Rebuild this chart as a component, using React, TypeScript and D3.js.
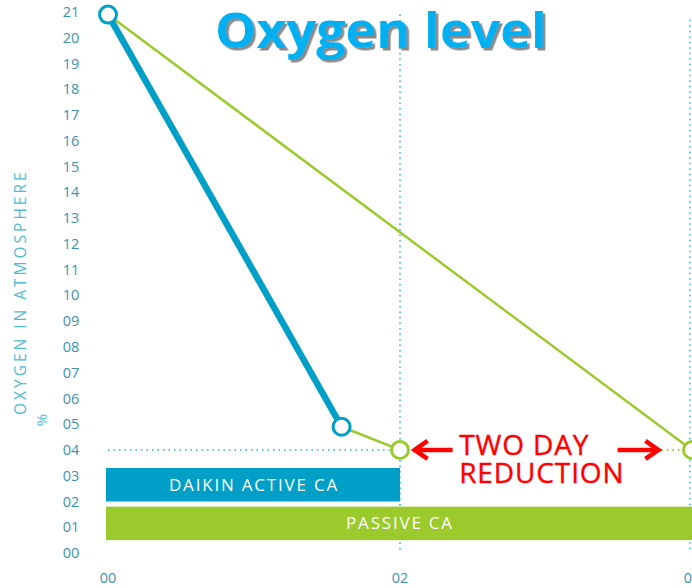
import React, { useEffect, useRef } from "react";
import * as d3 from "d3";

// data
const yTicks = d3.range(0, 22);
const xTicks = [0, 2, 4];
const activeDays = [0, 1.6];
const activeO2 = [20.9, 4.9];
const tailDays = [1.6, 2];
const tailO2 = [4.9, 4.0];
const passiveDays = [0, 4];
const passiveO2 = [20.9, 4.0];
const barNames = ["DAIKIN ACTIVE CA", "PASSIVE CA"];
const barStart = [0, 0];
const barEnd = [2, 4.1];
const barTop = [3.3, 1.8];
const barBottom = [2.0, 0.5];

const BLUE = "#009fc7";
const GREEN = "#9aca2b";
const DOT = "#5fc3d9";
const RED = "#ff0000";

const fmt = (v: number) => (v < 10 ? "0" + v : String(v));

export default function App() {
  const ref = useRef<SVGSVGElement>(null);

  useEffect(() => {
    const svg = d3.select(ref.current);
    svg.selectAll("*").remove();

    const x = d3.scaleLinear().domain([0, 4]).range([108, 692]);
    const y = d3.scaleLinear().domain([0, 21]).range([553, 12]);
    const font = "'Open Sans', sans-serif";

    // hard grey shadow for the title
    svg
      .append("defs")
      .append("filter")
      .attr("id", "shadow")
      .attr("x", "-5%")
      .attr("y", "-10%")
      .attr("width", "110%")
      .attr("height", "130%")
      .append("feDropShadow")
      .attr("dx", 2.5)
      .attr("dy", 2.5)
      .attr("stdDeviation", 0)
      .attr("flood-color", "#8a8a8a");

    // y tick labels
    svg
      .append("g")
      .selectAll("text")
      .data(yTicks)
      .join("text")
      .attr("x", 71)
      .attr("y", (d) => y(d))
      .attr("dy", "0.35em")
      .attr("text-anchor", "middle")
      .style("font-family", font)
      .style("font-size", "14.5px")
      .style("fill", "#3b93b3")
      .text((d) => fmt(d));

    // x tick labels
    svg
      .append("g")
      .selectAll("text")
      .data(xTicks)
      .join("text")
      .attr("x", (d) => x(d))
      .attr("y", 578)
      .attr("dy", "0.35em")
      .attr("text-anchor", "middle")
      .style("font-family", font)
      .style("font-size", "14.5px")
      .style("fill", "#3b93b3")
      .text((d) => fmt(d));

    // axis title, starts at the bottom
    svg
      .append("text")
      .attr("transform", "translate(26, 415) rotate(-90)")
      .attr("text-anchor", "start")
      .style("font-family", font)
      .style("font-size", "15.5px")
      .style("letter-spacing", "3px")
      .style("fill", "#4fbcd3")
      .text("OXYGEN IN ATMOSPHERE");
    svg
      .append("text")
      .attr("transform", "translate(47, 420) rotate(-90)")
      .attr("text-anchor", "middle")
      .style("font-family", font)
      .style("font-size", "15px")
      .style("fill", "#4fbcd3")
      .text("%");

    // dotted guides
    const dotted = (x1: number, y1: number, x2: number, y2: number, c: string) =>
      svg
        .append("line")
        .attr("x1", x(x1))
        .attr("y1", y(y1))
        .attr("x2", x(x2))
        .attr("y2", y(y2))
        .attr("stroke", c)
        .attr("stroke-width", 2)
        .attr("stroke-dasharray", "1.5 4");
    dotted(2, 20.9, 2, 0, DOT);
    dotted(3.985, 20.7, 3.985, 0, DOT);
    dotted(0, 4, 1.93, 4, DOT);
    dotted(3.79, 4, 3.95, 4, GREEN);

    // bars
    const colors = [BLUE, GREEN];
    barNames.forEach((name, i) => {
      svg
        .append("rect")
        .attr("x", x(barStart[i]) - 2)
        .attr("y", y(barTop[i]))
        .attr("width", x(barEnd[i]) - x(barStart[i]) + 2)
        .attr("height", y(barBottom[i]) - y(barTop[i]))
        .attr("fill", colors[i]);
      const cx = i === 0 ? (x(barStart[i]) + x(barEnd[i])) / 2 : x(2);
      svg
        .append("text")
        .attr("x", cx)
        .attr("y", (y(barTop[i]) + y(barBottom[i])) / 2)
        .attr("dy", "0.35em")
        .attr("text-anchor", "middle")
        .style("font-family", font)
        .style("font-size", "17px")
        .style("letter-spacing", "1.8px")
        .style("fill", "#fff")
        .text(name);
    });

    const line = d3
      .line<[number, number]>()
      .x((d) => x(d[0]))
      .y((d) => y(d[1]));

    const pts = (ds: number[], vs: number[]) => ds.map((d, i) => [d, vs[i]] as [number, number]);

    svg
      .append("path")
      .attr("d", line(pts(passiveDays, passiveO2)))
      .attr("fill", "none")
      .attr("stroke", GREEN)
      .attr("stroke-width", 2.5);
    svg
      .append("path")
      .attr("d", line(pts(tailDays, tailO2)))
      .attr("fill", "none")
      .attr("stroke", GREEN)
      .attr("stroke-width", 2.5);
    svg
      .append("path")
      .attr("d", line(pts(activeDays, activeO2)))
      .attr("fill", "none")
      .attr("stroke", BLUE)
      .attr("stroke-width", 6.5);

    // markers
    const markers: [number, number, string][] = [
      [activeDays[1], activeO2[1], BLUE],
      [tailDays[1], tailO2[1], GREEN],
      [passiveDays[1], passiveO2[1], GREEN],
      [activeDays[0], activeO2[0], BLUE],
    ];
    svg
      .append("g")
      .selectAll("circle")
      .data(markers)
      .join("circle")
      .attr("cx", (d) => x(d[0]))
      .attr("cy", (d) => y(d[1]))
      .attr("r", 8.5)
      .attr("fill", "#fff")
      .attr("stroke", (d) => d[2])
      .attr("stroke-width", 3);

    // two day reduction annotation
    const arrow = (from: number, to: number) => {
      const dir = Math.sign(to - from);
      const tip = x(to);
      const yy = y(4);
      svg
        .append("line")
        .attr("x1", x(from))
        .attr("y1", yy)
        .attr("x2", tip - dir * 2)
        .attr("y2", yy)
        .attr("stroke", RED)
        .attr("stroke-width", 4.5);
      svg
        .append("path")
        .attr("d", `M${tip - dir * 13},${yy - 9}L${tip},${yy}L${tip - dir * 13},${yy + 9}`)
        .attr("fill", "none")
        .attr("stroke", RED)
        .attr("stroke-width", 4.5)
        .attr("stroke-linejoin", "miter");
    };
    arrow(2.36, 2.1);
    arrow(3.49, 3.77);

    const ann = svg
      .append("text")
      .attr("text-anchor", "start")
      .style("font-family", font)
      .style("font-size", "28px")
      .style("letter-spacing", "0.9px")
      .style("fill", RED)
      .style("stroke", RED)
      .style("stroke-width", 0.4);
    ann.append("tspan").attr("x", x(2.405)).attr("y", 455).text("TWO DAY");
    ann.append("tspan").attr("x", x(2.405)).attr("y", 483).text("REDUCTION");

    // title
    svg
      .append("text")
      .attr("x", 381)
      .attr("y", 48)
      .attr("text-anchor", "middle")
      .attr("textLength", 332)
      .attr("lengthAdjust", "spacingAndGlyphs")
      .attr("filter", "url(#shadow)")
      .style("font-family", font)
      .style("font-weight", 700)
      .style("font-size", "48px")
      .style("fill", "#00b0f0")
      .text("Oxygen level");
  }, []);

  return (
    <svg
      ref={ref}
      width={692}
      height={588}
      style={{ position: "absolute", left: 0, top: 0, background: "#fff", overflow: "hidden" }}
    />
  );
}
